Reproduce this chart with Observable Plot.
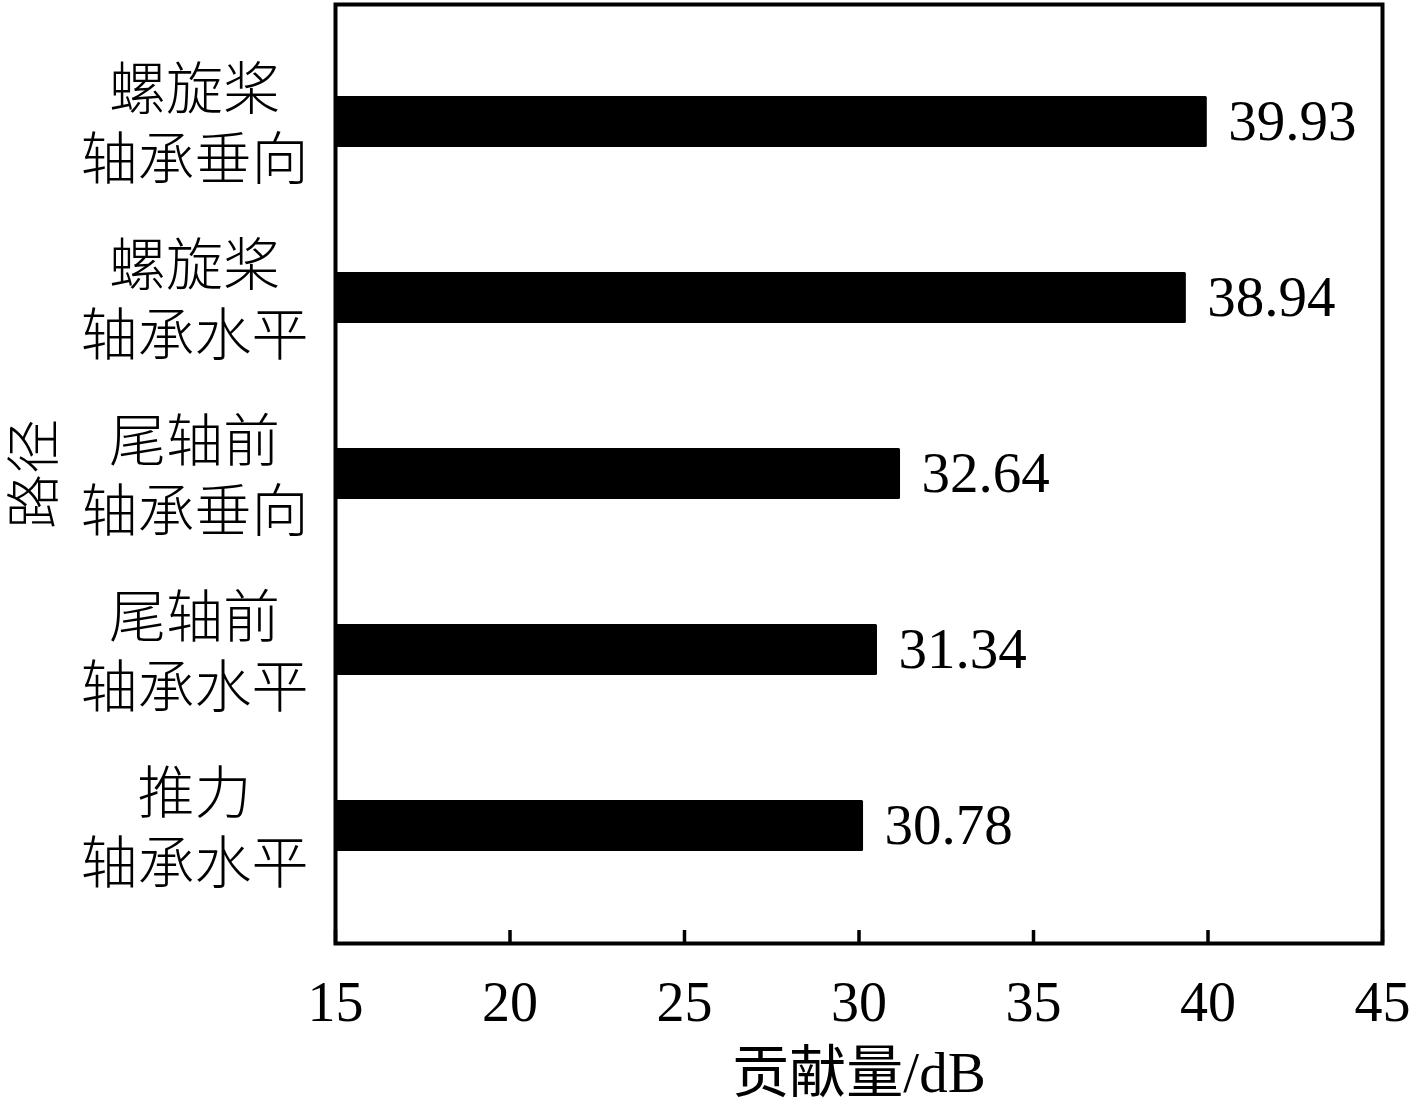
<!DOCTYPE html>
<html><head><meta charset="utf-8">
<script src="https://cdn.jsdelivr.net/npm/d3@7"></script>
<script src="https://cdn.jsdelivr.net/npm/@observablehq/plot@0.6"></script>
<style>html,body{margin:0;padding:0;background:#fff;}</style>
</head><body><div id="chart"></div>
<script>
const categories = ["螺旋桨\n轴承垂向", "螺旋桨\n轴承水平", "尾轴前\n轴承垂向", "尾轴前\n轴承水平", "推力\n轴承水平"];
const barValues = [39.98, 39.38, 31.19, 30.53, 30.13];
const valueLabels = ["39.93", "38.94", "32.64", "31.34", "30.78"];
const xTicks = [15, 20, 25, 30, 35, 40, 45];
const xDomain = [15, 45];
const xTitle = "贡献量/dB";
const yTitle = "路径";

const rows = categories.map((c, i) => ({path: c, bar: barValues[i], label: valueLabels[i]}));

const serif = "'Liberation Serif','Times New Roman',serif";
const mixed = "'Liberation Serif','Noto Sans CJK SC',serif";
const cjk = "'Noto Sans CJK SC',sans-serif";

const chart = Plot.plot({
  width: 1417, height: 1108,
  marginLeft: 335, marginRight: 35, marginTop: 4, marginBottom: 165,
  style: {background: "white", color: "black", overflow: "visible"},
  x: {domain: xDomain},
  y: {domain: categories, insetTop: 28, insetBottom: 29, paddingInner: 0.711, paddingOuter: 0.3555},
  marks: [
    Plot.barX(rows, {x1: d => xDomain[0], x2: "bar", y: "path", fill: "black", rx: 1.5}),
    Plot.text(rows, {x: "bar", y: "path", text: "label", textAnchor: "start", dx: 21, fontSize: 57, fontFamily: serif, fill: "black"}),
    Plot.tickX(xTicks, {x: d => d, insetTop: 926, stroke: "black", strokeWidth: 3.5}),
    Plot.axisX({ticks: xTicks, tickSize: 0, tickPadding: 38, fontSize: 56, fontFamily: serif, label: null}),
    Plot.axisY({tickSize: 0, tickPadding: 141, textAnchor: "middle", fontSize: 57, lineHeight: 1.22, fontFamily: cjk, fontWeight: 300, label: null}),
    Plot.text([xTitle], {frameAnchor: "bottom", textAnchor: "middle", dy: 148, fontSize: 57, fontFamily: mixed, fill: "black"}),
    Plot.text([yTitle], {frameAnchor: "left", textAnchor: "middle", dx: -300, rotate: -90, fontSize: 55, fontFamily: cjk, fontWeight: 300, fill: "black"}),
    Plot.frame({stroke: "black", strokeWidth: 4})
  ]
});
document.getElementById("chart").appendChild(chart);
</script>
</body></html>
